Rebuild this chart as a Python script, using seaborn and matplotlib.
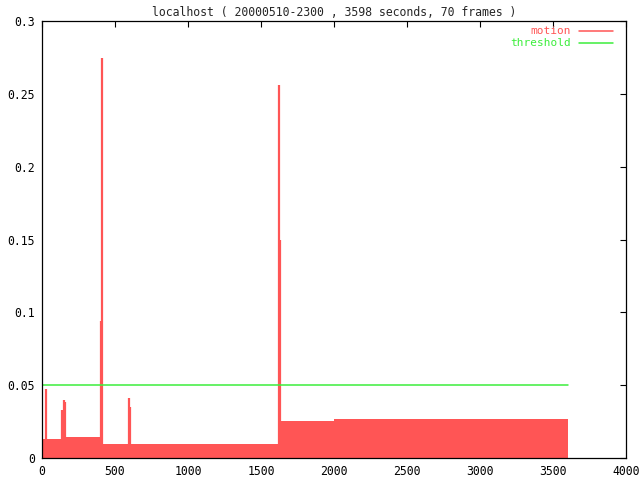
import matplotlib
matplotlib.use('Agg')
import matplotlib.pyplot as plt
import numpy as np
import pandas as pd
import seaborn as sns

# motion baseline: level holds from each start time until the next one
base_time = [0, 130, 412, 1625, 2000, 3600]
base_level = [0.0132, 0.0140, 0.0092, 0.0250, 0.0265, 0.0265]

# motion spikes (seconds, value)
spike_time = [27, 139, 153, 157, 404, 411, 598, 604, 1626, 1630]
spike_value = [0.047, 0.033, 0.040, 0.038, 0.094, 0.275, 0.041, 0.035, 0.256, 0.150]

threshold_time = [0, 3600]
threshold_value = [0.05, 0.05]

RED = '#ff5555'
GREEN = '#3cee3c'

sns.set_style('white')
plt.rcParams['font.family'] = ['DejaVu Sans Mono']

fig = plt.figure(figsize=(6.4, 4.8), dpi=100)
ax = fig.add_axes([42 / 640, 22.3 / 480, 584 / 640, 436.3 / 480])

ax.fill_between(base_time, base_level, step='post', color=RED, linewidth=0)
ax.vlines(spike_time, 0, spike_value, color=RED, linewidth=1.6)

thr = pd.DataFrame({'t': threshold_time, 'v': threshold_value})
sns.lineplot(data=thr, x='t', y='v', ax=ax, color=GREEN, linewidth=1.1, legend=False)

ax.set_xlim(0, 4000)
ax.set_ylim(0, 0.3)
ax.set_xticks(np.arange(0, 4001, 500))
ax.set_yticks([0, 0.05, 0.1, 0.15, 0.2, 0.25, 0.3])
ax.set_yticklabels(['0', '0.05', '0.1', '0.15', '0.2', '0.25', '0.3'])
ax.set_xlabel('')
ax.set_ylabel('')
ax.tick_params(direction='in', length=4.5, width=0.8, top=True, right=True,
               labelsize=8.3, colors='black', pad=5)
for s in ax.spines.values():
    s.set_color('black')
    s.set_linewidth(0.9)

fig.text(334 / 640, 1 - 13 / 480, 'localhost ( 20000510-2300 , 3598 seconds, 70 frames )',
         ha='center', va='center', fontsize=8.3)

# gnuplot-style key: text right-aligned, sample line to its right
for label, color, yf in [('motion', RED, 0.978), ('threshold', GREEN, 0.950)]:
    ax.text(0.906, yf, label, transform=ax.transAxes, ha='right', va='center',
            color=color, fontsize=8)
    ax.plot([0.9195, 0.9777], [yf, yf], transform=ax.transAxes, color=color,
            linewidth=1.1, clip_on=False)

fig.savefig('out.png', dpi=100)
